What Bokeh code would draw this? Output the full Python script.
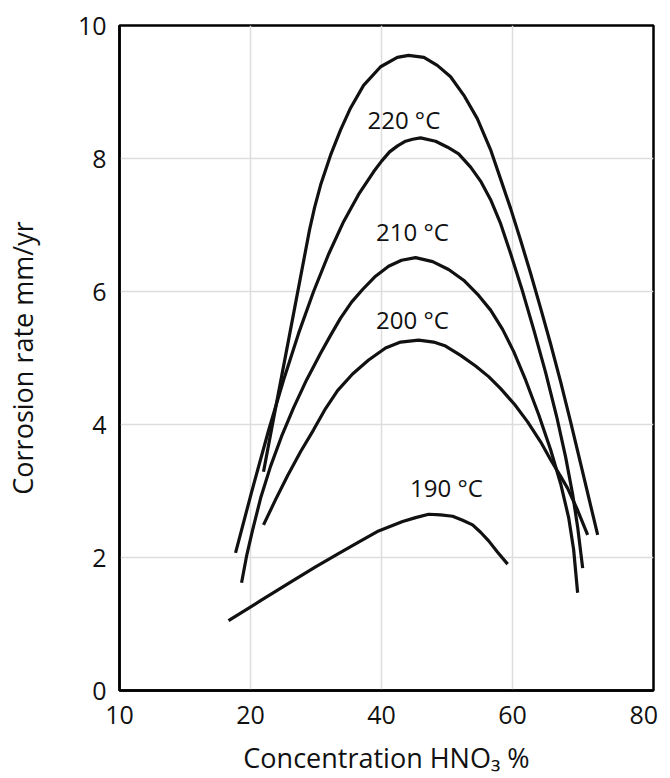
from bokeh.plotting import figure
from bokeh.models import FixedTicker, Range1d
from bokeh.core.properties import value
from bokeh.embed import file_html
from bokeh.resources import INLINE

# ---- data ----
# top curve (unlabelled)
top_x = [21.98, 23.36, 26.11, 29.01, 29.77, 30.69, 32.21, 33.74, 35.27, 37.25, 39.85, 42.40,
         44.12, 46.46, 48.50, 50.53, 52.56, 54.61, 56.64, 58.17, 59.69, 61.22,
         62.75, 64.27, 65.80, 67.33, 68.85, 70.38, 71.91, 72.98]
top_y = [3.29, 4.01, 5.43, 6.93, 7.26, 7.60, 8.05, 8.43, 8.76, 9.10, 9.38, 9.52,
         9.55, 9.52, 9.40, 9.23, 8.95, 8.60, 8.13, 7.69, 7.25, 6.77,
         6.27, 5.75, 5.21, 4.64, 4.04, 3.41, 2.78, 2.34]

c220_x = [17.71, 20.15, 22.75, 25.04, 27.33, 29.62, 31.91, 34.20, 36.49, 38.78, 40.00,
          41.22, 42.44, 43.66, 44.73, 45.95, 48.24, 50.08, 51.76, 53.59, 55.11, 56.64,
          58.17, 59.69, 61.37, 63.21, 65.04, 66.72, 68.09, 69.16, 69.92, 70.69]
c220_y = [2.07, 2.98, 3.91, 4.67, 5.37, 6.00, 6.56, 7.05, 7.46, 7.80, 7.96,
          8.10, 8.19, 8.26, 8.29, 8.31, 8.26, 8.17, 8.07, 7.87, 7.66, 7.38,
          7.02, 6.57, 6.05, 5.43, 4.78, 4.12, 3.51, 2.95, 2.46, 1.84]

c210_x = [18.63, 19.39, 20.31, 21.53, 23.05, 24.73, 26.56, 28.55, 30.69, 32.21, 33.74,
          35.42, 37.10, 39.08, 41.07, 43.05, 45.19, 47.79, 50.23, 52.52, 54.81, 56.64,
          58.47, 60.15, 61.98, 63.97, 65.80, 67.33, 68.55, 69.31, 69.92]
c210_y = [1.62, 2.02, 2.41, 2.89, 3.37, 3.82, 4.25, 4.67, 5.07, 5.34, 5.60,
          5.84, 6.03, 6.23, 6.38, 6.47, 6.51, 6.45, 6.33, 6.17, 5.94, 5.72,
          5.43, 5.10, 4.67, 4.15, 3.62, 3.11, 2.60, 2.12, 1.47]

c200_x = [21.98, 23.82, 25.65, 27.63, 29.62, 31.45, 33.28, 35.57, 38.02, 40.61, 42.90,
          45.65, 47.94, 49.77, 52.06, 54.35, 56.34, 58.17, 60.31, 62.29, 64.27,
          65.80, 67.33, 68.40, 69.92, 71.45]
c200_y = [2.49, 2.87, 3.23, 3.59, 3.92, 4.24, 4.51, 4.76, 4.97, 5.15, 5.24,
          5.27, 5.24, 5.18, 5.04, 4.88, 4.72, 4.54, 4.30, 4.04, 3.74,
          3.47, 3.22, 3.04, 2.71, 2.34]

c190_x = [16.64, 21.53, 26.11, 29.92, 33.28, 36.49, 39.54, 43.21, 45.19, 47.18, 49.01,
          50.84, 52.37, 53.89, 55.11, 56.34, 57.71, 59.24]
c190_y = [1.05, 1.35, 1.63, 1.86, 2.05, 2.23, 2.40, 2.54, 2.60, 2.65, 2.64,
          2.62, 2.56, 2.49, 2.38, 2.25, 2.08, 1.90]

curve_labels = ["220 \u00b0C", "210 \u00b0C", "200 \u00b0C", "190 \u00b0C"]
label_x = [43.4, 44.7, 44.7, 49.9]
label_y = [8.58, 6.90, 5.58, 3.05]

x_ticks = [0, 20, 40, 60, 80]
x_tick_labels = ["10", "20", "40", "60", "80"]
y_ticks = [0, 2, 4, 6, 8, 10]
y_tick_labels = ["0", "2", "4", "6", "8", "10"]
x_grid = [20, 40, 60]
y_grid = [2, 4, 6, 8]

FONT = "Open Sans"

p = figure(width=670, height=778, output_backend="svg", toolbar_location=None,
           x_range=Range1d(0, 81.5), y_range=Range1d(0, 10),
           min_border_left=119, min_border_right=17, min_border_top=25, min_border_bottom=85)

p.background_fill_color = "white"
p.border_fill_color = "white"
p.outline_line_color = "black"
p.outline_line_width = 2.5

for ax in (p.xaxis[0], p.yaxis[0]):
    ax.major_tick_out = 0
    ax.major_tick_in = 0
    ax.minor_tick_out = 0
    ax.minor_tick_in = 0
    ax.axis_line_color = "black"
    ax.axis_line_width = 2.5
    ax.major_label_text_font = FONT
    ax.major_label_text_font_size = "25px"
    ax.major_label_text_color = "#111111"
    ax.axis_label_text_font = FONT
    ax.axis_label_text_font_size = "27px"
    ax.axis_label_text_font_style = "normal"
    ax.axis_label_text_color = "#111111"

p.xaxis.ticker = FixedTicker(ticks=x_ticks)
p.xaxis.major_label_overrides = {t: l for t, l in zip(x_ticks, x_tick_labels)}
p.yaxis.ticker = FixedTicker(ticks=y_ticks)
p.yaxis.major_label_overrides = {t: l for t, l in zip(y_ticks, y_tick_labels)}
p.xaxis.major_label_standoff = 15
p.yaxis.major_label_standoff = 13
p.xaxis.axis_label = "Concentration HNO\u2083 %"
p.yaxis.axis_label = "Corrosion rate mm/yr"
p.xaxis.axis_label_standoff = 12
p.yaxis.axis_label_standoff = 34

p.xgrid.ticker = FixedTicker(ticks=x_grid)
p.ygrid.ticker = FixedTicker(ticks=y_grid)
p.grid.grid_line_color = "#dddddd"
p.grid.grid_line_width = 1.5

for xs, ys in ((top_x, top_y), (c220_x, c220_y), (c210_x, c210_y),
               (c200_x, c200_y), (c190_x, c190_y)):
    p.line(xs, ys, line_color="#111111", line_width=3.2, line_cap="butt", line_join="round")

p.text(x=label_x, y=label_y, text=curve_labels, text_font=value(FONT),
       text_font_size="24px", text_align="center", text_baseline="middle",
       text_color="#111111")

open("out.html", "w").write(file_html(p, INLINE))
